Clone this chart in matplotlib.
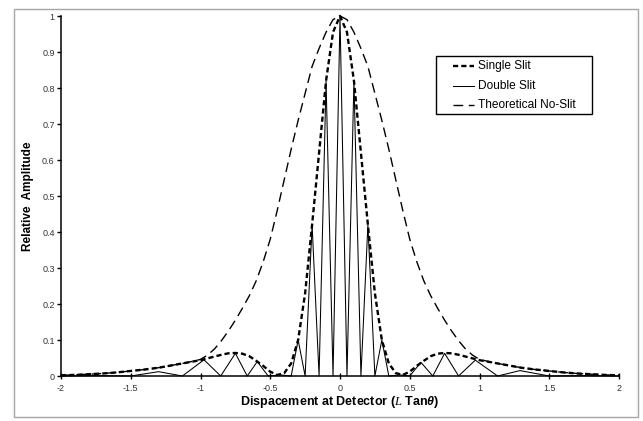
import matplotlib
matplotlib.use("Agg")
import matplotlib.pyplot as plt
from matplotlib.lines import Line2D
from matplotlib.patches import Rectangle

plt.rcParams['font.family'] = ['Liberation Sans', 'DejaVu Sans']
plt.rcParams['mathtext.fontset'] = 'custom'
plt.rcParams['mathtext.it'] = 'Liberation Serif:italic'
plt.rcParams['mathtext.bf'] = 'Liberation Sans:bold:italic'
plt.rcParams['mathtext.rm'] = 'Liberation Sans:bold'

# ---------------- data ----------------
grid_x = [-2.0, -1.9, -1.8, -1.7, -1.6, -1.5, -1.4, -1.3, -1.2, -1.1, -1.0,
          -0.95, -0.9, -0.85, -0.8, -0.75, -0.7, -0.65, -0.6, -0.55, -0.5,
          -0.45, -0.4, -0.35, -0.3, -0.25, -0.2, -0.15, -0.1, -0.05, 0.0,
          0.05, 0.1, 0.15, 0.2, 0.25, 0.3, 0.35, 0.4, 0.45, 0.5,
          0.55, 0.6, 0.65, 0.7, 0.75, 0.8, 0.85, 0.9, 0.95, 1.0,
          1.1, 1.2, 1.3, 1.4, 1.5, 1.6, 1.7, 1.8, 1.9, 2.0]

single_slit = [0.002, 0.003, 0.005, 0.007, 0.010, 0.014, 0.018, 0.023, 0.030, 0.037, 0.044,
               0.049, 0.054, 0.059, 0.063, 0.064, 0.062, 0.055, 0.042, 0.028, 0.012,
               0.003, 0.008, 0.035, 0.100, 0.230, 0.420, 0.620, 0.820, 0.955, 1.000,
               0.955, 0.820, 0.620, 0.420, 0.230, 0.100, 0.035, 0.008, 0.003, 0.012,
               0.028, 0.042, 0.055, 0.062, 0.064, 0.063, 0.059, 0.054, 0.049, 0.044,
               0.037, 0.030, 0.023, 0.018, 0.014, 0.010, 0.007, 0.005, 0.003, 0.002]

no_slit = [0.002, 0.003, 0.005, 0.007, 0.010, 0.014, 0.018, 0.023, 0.030, 0.037, 0.046,
           0.058, 0.075, 0.098, 0.125, 0.155, 0.188, 0.223, 0.265, 0.318, 0.380,
           0.460, 0.545, 0.630, 0.710, 0.785, 0.860, 0.910, 0.955, 0.990, 1.000,
           0.990, 0.955, 0.910, 0.860, 0.785, 0.710, 0.630, 0.545, 0.460, 0.380,
           0.318, 0.265, 0.223, 0.188, 0.155, 0.125, 0.098, 0.075, 0.058, 0.046,
           0.037, 0.030, 0.023, 0.018, 0.014, 0.010, 0.007, 0.005, 0.003, 0.002]

double_x = [-2.0, -1.75, -1.5, -1.3, -1.13, -0.975, -0.855, -0.75, -0.665, -0.593,
            -0.515, -0.43, -0.35, -0.3, -0.25, -0.2, -0.15, -0.1, -0.05, 0.0,
            0.05, 0.1, 0.15, 0.2, 0.25, 0.3, 0.35, 0.43, 0.5, 0.58,
            0.665, 0.75, 0.85, 0.97, 1.13, 1.29, 1.5, 1.75, 2.0]
double_slit = [0.0, 0.001, 0.0, 0.012, 0.0, 0.045, 0.0, 0.063, 0.0, 0.040,
               0.0, 0.003, 0.0, 0.100, 0.0, 0.420, 0.0, 0.820, 0.0, 1.000,
               0.0, 0.820, 0.0, 0.420, 0.0, 0.100, 0.0, 0.003, 0.0, 0.038,
               0.0, 0.063, 0.0, 0.044, 0.0, 0.015, 0.0, 0.001, 0.0]

x_ticks = [-2, -1.5, -1, -0.5, 0, 0.5, 1, 1.5, 2]
x_tick_labels = ['-2', '-1.5', '-1', '-0.5', '0', '0.5', '1', '1.5', '2']
y_ticks = [0, 0.1, 0.2, 0.3, 0.4, 0.5, 0.6, 0.7, 0.8, 0.9, 1.0]
y_tick_labels = ['0', '0.1', '0.2', '0.3', '0.4', '0.5', '0.6', '0.7', '0.8', '0.9', '1']
series_labels = ['Single Slit', 'Double Slit', 'Theoretical No-Slit']

# ---------------- figure ----------------
W, H = 643, 421
fig = plt.figure(figsize=(W / 100, H / 100), dpi=100)
fig.patch.set_facecolor('white')

# outer chart frame
fig.patches.append(Rectangle((14 / W, 1 - 417 / H), 624 / W, 408 / H,
                             transform=fig.transFigure, fill=False,
                             edgecolor='#a6a6a6', linewidth=1.0))

ax = fig.add_axes([61 / W, 1 - 376 / H, 558 / W, 360 / H])
ax.set_xlim(-2, 2)
ax.set_ylim(0, 1)

style_single = dict(color='black', linewidth=1.7, dashes=(2.2, 1.3))
style_double = dict(color='black', linewidth=0.75)
style_none = dict(color='black', linewidth=1.0, dashes=(7, 4))

ax.plot(grid_x, no_slit, clip_on=False, **style_none)
ax.plot(double_x, double_slit, clip_on=False, **style_double)
ax.plot(grid_x, single_slit, clip_on=False, **style_single)

for s in ['top', 'right']:
    ax.spines[s].set_visible(False)
for s in ['left', 'bottom']:
    ax.spines[s].set_linewidth(1.1)
    ax.spines[s].set_color('black')

ax.set_xticks(x_ticks)
ax.set_xticklabels(x_tick_labels)
ax.set_yticks(y_ticks)
ax.set_yticklabels(y_tick_labels)
ax.tick_params(axis='x', direction='inout', length=4, width=1, pad=3.5,
               labelsize=6.5, labelcolor='#333333')
ax.tick_params(axis='y', direction='out', length=3, width=1, pad=1.5,
               labelsize=6.5, labelcolor='#333333')

ax.set_ylabel('Relative  Amplitude', fontsize=8.5, fontweight='bold')
ax.yaxis.set_label_coords(-(61 - 34) / 558, 0.5)
ax.set_xlabel(r'Dispacement at Detector ($\mathit{L}$ Tan$\mathbf{\theta}$)',
              fontsize=9, fontweight='bold')
ax.xaxis.set_label_coords(0.5, -(402 - 376) / 360)
ax.xaxis.label.set_verticalalignment('center')

# legend (manual box so padding matches)
lx0, ly0, lx1, ly1 = 436, 56, 592, 114
fig.patches.append(Rectangle((lx0 / W, 1 - ly1 / H), (lx1 - lx0) / W, (ly1 - ly0) / H,
                             transform=fig.transFigure, fill=True, facecolor='white',
                             edgecolor='black', linewidth=1.0, zorder=5))
rows = [66, 86, 105]
styles = [style_single, style_double, style_none]
texts = []
for yy, lab, st in zip(rows, series_labels, styles):
    fig.lines.append(Line2D([453 / W, 474 / W], [1 - yy / H, 1 - yy / H],
                            transform=fig.transFigure, zorder=6, **st))
    texts.append(fig.text(478 / W, 1 - yy / H, lab, fontsize=8, va='center',
                          ha='left', zorder=6))

# fit the legend text width to the reference (longest label ~99 px)
renderer = fig.canvas.get_renderer()
wpx = texts[2].get_window_extent(renderer).width
fs = 8 * 99.0 / wpx
for t in texts:
    t.set_fontsize(fs)

fig.savefig('out.png', dpi=100)
